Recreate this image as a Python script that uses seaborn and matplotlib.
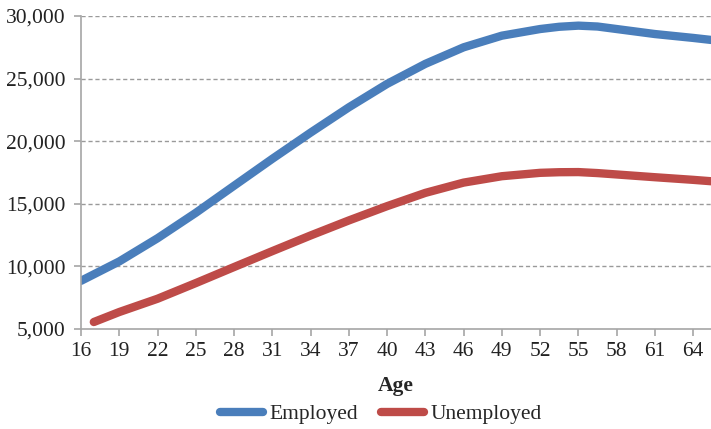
import matplotlib
matplotlib.use("Agg")
import matplotlib.pyplot as plt
import seaborn as sns
import pandas as pd

ages_emp = [16, 19, 22, 25, 28, 31, 34, 37, 40, 43, 46, 49, 52, 53.5, 55, 56.5, 58, 61, 64, 65.4]
employed = [8850, 10400, 12250, 14280, 16440, 18590, 20680, 22700, 24570, 26170, 27490,
            28420, 28950, 29130, 29220, 29150, 28950, 28550, 28240, 28080]
ages_unemp = [17, 19, 22, 25, 28, 31, 34, 37, 40, 43, 46, 49, 52, 53.5, 55, 56.5, 58, 61, 64, 65.4]
unemployed = [5560, 6360, 7420, 8670, 9950, 11220, 12470, 13670, 14810, 15870, 16690,
              17200, 17470, 17520, 17530, 17450, 17340, 17120, 16910, 16800]
xticks = list(range(16, 65, 3))
yticks = [5000, 10000, 15000, 20000, 25000, 30000]

df = pd.concat([
    pd.DataFrame({"Age": ages_emp, "Value": employed, "Status": "Employed"}),
    pd.DataFrame({"Age": ages_unemp, "Value": unemployed, "Status": "Unemployed"}),
])

sns.set_theme(style="white")
plt.rcParams['font.family'] = ['Liberation Serif', 'DejaVu Serif']

FS = 15.5
fig = plt.figure(figsize=(7.11, 4.29), dpi=100)
ax = fig.add_axes([0.114, 0.233, 0.886, 0.730])
sns.lineplot(data=df, x="Age", y="Value", hue="Status",
             palette={"Employed": "#4a7ebb", "Unemployed": "#be4b48"},
             linewidth=6, ax=ax, legend=True, solid_capstyle="round",
             solid_joinstyle="round")
ax.set_xlim(16, 65.4)
ax.set_ylim(5000, 30000)
ax.set_xticks(xticks)
ax.set_xticklabels([str(t) for t in xticks], fontsize=FS)
ax.set_yticks(yticks)
ax.set_yticklabels([f"{t:,}" for t in yticks], fontsize=FS)
for t in yticks[1:]:
    ax.axhline(t, color="#9a9a9a", linestyle=(0, (3, 2)), linewidth=1, zorder=0)
for s in ["top", "right"]:
    ax.spines[s].set_visible(False)
for s in ["left", "bottom"]:
    ax.spines[s].set_color("#a6a6a6")
    ax.spines[s].set_linewidth(1.2)
ax.tick_params(axis="both", direction="out", length=5, width=1.2, color="#a6a6a6",
               bottom=True, left=True, labelcolor="#222222")
ax.tick_params(axis="y", pad=6)
ax.tick_params(axis="x", pad=4)
ax.set_xlabel("Age", fontsize=FS, fontweight="bold", labelpad=11)
ax.set_ylabel("")
handles, labels = ax.get_legend_handles_labels()
for h in handles:
    h.set_solid_capstyle("round")
ax.legend(handles, labels, loc="center", bbox_to_anchor=(0.476, -0.272), ncol=2, frameon=False,
          fontsize=FS, handlelength=2.0, handletextpad=0.3, columnspacing=1.1)
fig.savefig("out.png", dpi=100)
